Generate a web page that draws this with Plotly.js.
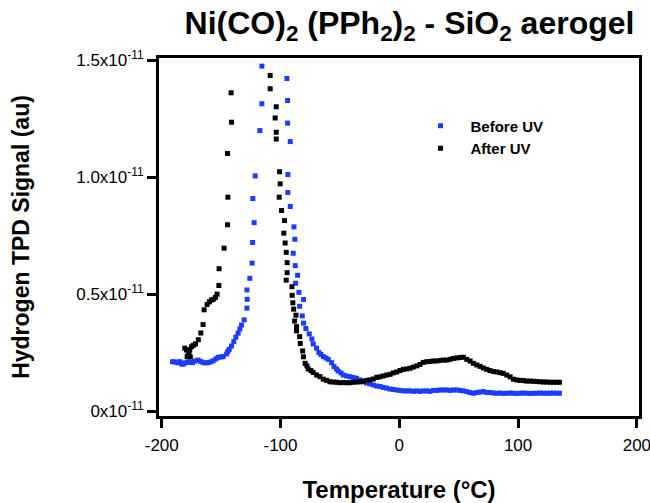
<!DOCTYPE html>
<html>
<head>
<meta charset="utf-8">
<script src="https://cdn.plot.ly/plotly-3.0.1.min.js"></script>
<style>html,body{margin:0;padding:0;background:#fff;}#chart{width:650px;height:503px;}</style>
</head>
<body>
<div id="chart"></div>
<script>
// Temperature (°C) and hydrogen TPD signal (in units of 1e-11 au)
const tempBefore = [-190.9,-189.0,-186.5,-184.8,-183.1,-182.0,-180.6,-178.0,-176.4,-174.1,-172.1,-169.4,-167.1,-165.2,-162.9,-160.9,-158.7,-156.7,-154.4,-152.5,-150.2,-148.3,-145.4,-144.3,-143.2,-141.2,-139.3,-137.6,-135.7,-134.2,-132.8,-130.6,-128.3,-128.1,-128.3,-125.8,-123.9,-123.5,-122.2,-123.3,-121.3,-117.4,-115.7,-115.7,
  -94.6,-94.0,-94.0,-91.8,-93.8,-93.8,-91.8,-88.7,-87.9,-89.3,-87.6,-85.6,-87.3,-84.5,-80.6,-83.9,-81.7,-80.6,-78.6,-75.8,-73.6,-72.5,-69.6,-67.7,-66.0,-64.0,-61.8,-59.8,-57.0,-55.0,-52.9,-51.4,-49.1,-47.2,-44.5,-41.5,-38.8,-35.9,-33.1,-30.3,-27.6,-24.7,-21.9,-19.0,-16.3,-13.5,-10.8,-7.8,-4.9,-2.2,0.6,3.5,6.2,9.0,12.0,14.7,17.4,20.2,23.1,25.9,28.6,31.5,34.3,37.1,39.9,42.7,45.5,48.4,51.1,53.9,56.8,59.6,62.4,65.2,68.0,70.8,73.6,76.4,79.2,82.1,84.9,87.6,90.5,93.3,96.1,98.9,101.7,104.5,107.3,110.1,112.9,115.8,118.6,121.4,124.2,127.0,129.8,132.5,134.8];
const signalBefore = [0.211,0.210,0.206,0.211,0.201,0.201,0.206,0.210,0.208,0.207,0.214,0.218,0.212,0.207,0.206,0.207,0.210,0.215,0.223,0.230,0.231,0.233,0.244,0.255,0.264,0.278,0.297,0.316,0.333,0.351,0.368,0.390,0.440,0.478,0.518,0.568,0.633,0.721,0.806,0.909,1.006,1.200,1.315,1.476,
  1.423,1.329,1.232,1.153,1.012,0.935,0.875,0.788,0.735,0.675,0.622,0.581,0.547,0.508,0.477,0.448,0.407,0.376,0.353,0.330,0.308,0.287,0.269,0.250,0.242,0.233,0.227,0.221,0.207,0.190,0.180,0.171,0.163,0.154,0.150,0.147,0.143,0.140,0.133,0.125,0.120,0.116,0.111,0.107,0.105,0.101,0.098,0.094,0.092,0.090,0.088,0.086,0.086,0.086,0.084,0.086,0.084,0.086,0.086,0.084,0.088,0.088,0.090,0.090,0.090,0.088,0.090,0.090,0.088,0.086,0.083,0.079,0.076,0.079,0.081,0.083,0.079,0.079,0.077,0.076,0.077,0.075,0.076,0.077,0.076,0.075,0.076,0.077,0.076,0.075,0.076,0.076,0.077,0.076,0.076,0.076,0.077,0.076,0.076];

const tempAfter = [-180.6,-179.1,-178.6,-177.6,-176.9,-176.4,-175.9,-174.9,-173.4,-171.6,-169.2,-167.1,-165.2,-164.3,-161.8,-159.9,-158.2,-156.6,-154.7,-153.4,-151.9,-151.7,-147.5,-144.6,-144.3,-144.6,-141.2,-141.6,
  -108.7,-108.7,-103.6,-104.5,-103.6,-103.6,-100.8,-100.3,-101.1,-99.1,-96.6,-97.2,-96.1,-95.2,-94.4,-94.4,-95.2,-90.4,-90.2,-89.6,-88.9,-87.0,-88.1,-86.5,-86.5,-83.9,-83.4,-81.4,-80.7,-79.3,-77.8,-76.7,-74.4,-72.5,-69.6,-66.8,-64.0,-61.2,-58.4,-55.6,-52.7,-50.0,-47.2,-44.3,-41.5,-38.8,-35.9,-33.1,-30.3,-27.5,-24.7,-21.9,-19.0,-16.3,-13.5,-10.6,-7.8,-5.1,-2.2,0.6,3.4,6.2,9.0,11.8,14.7,17.4,20.2,23.1,25.9,28.6,31.5,34.3,37.1,39.9,42.7,45.5,48.4,51.1,53.9,56.8,59.6,62.4,65.2,68.0,70.8,73.6,76.4,79.2,82.1,84.9,87.6,90.5,93.3,96.1,98.9,101.7,104.5,107.3,110.1,112.9,115.8,118.6,121.4,124.2,127.0,129.8,132.5,134.8];
const signalAfter = [0.269,0.261,0.233,0.248,0.240,0.261,0.231,0.275,0.281,0.287,0.305,0.334,0.370,0.433,0.456,0.467,0.475,0.478,0.486,0.500,0.537,0.609,0.697,0.797,0.915,1.102,1.236,1.362,
  1.436,1.379,1.302,1.254,1.193,1.164,1.024,0.972,0.915,0.858,0.815,0.761,0.719,0.679,0.635,0.592,0.560,0.532,0.495,0.463,0.436,0.410,0.385,0.361,0.343,0.318,0.289,0.257,0.232,0.204,0.193,0.180,0.173,0.165,0.154,0.147,0.136,0.131,0.125,0.124,0.123,0.121,0.122,0.121,0.121,0.123,0.124,0.125,0.128,0.131,0.133,0.137,0.144,0.146,0.150,0.154,0.157,0.163,0.167,0.173,0.178,0.180,0.183,0.188,0.193,0.199,0.208,0.211,0.212,0.214,0.214,0.216,0.218,0.218,0.221,0.225,0.227,0.229,0.230,0.221,0.214,0.204,0.197,0.191,0.184,0.178,0.173,0.169,0.167,0.164,0.161,0.154,0.146,0.136,0.133,0.131,0.130,0.128,0.128,0.127,0.126,0.125,0.124,0.124,0.123,0.123,0.123,0.123];

const seriesNames = ['Before UV', 'After UV'];
const xTickVals = [-200, -100, 0, 100, 200];
const yTickVals = [0, 0.5, 1.0, 1.5];
const yTickText = ['0x10<sup>-11</sup>', '0.5x10<sup>-11</sup>', '1.0x10<sup>-11</sup>', '1.5x10<sup>-11</sup>'];

const FONT = 'Liberation Sans, Arial, Helvetica, sans-serif';

const traces = [
  {x: tempBefore, y: signalBefore, name: seriesNames[0], type: 'scatter', mode: 'markers',
   marker: {symbol: 'square', size: 5, color: '#1a3cff'}},
  {x: tempAfter, y: signalAfter, name: seriesNames[1], type: 'scatter', mode: 'markers',
   marker: {symbol: 'square', size: 5, color: '#000000'}}
];

const axisCommon = {
  showline: true, linewidth: 3, linecolor: '#000', mirror: true,
  ticks: 'outside', ticklen: 9, tickwidth: 3, tickcolor: '#000',
  showgrid: false, zeroline: false,
  ticklabeloverflow: 'allow',
  tickfont: {family: FONT, size: 17, color: '#000'}
};

const layout = {
  width: 650, height: 503,
  paper_bgcolor: '#fff', plot_bgcolor: '#fff',
  margin: {l: 159, r: 11, t: 58, b: 87, pad: 0},
  title: {
    text: 'Ni(CO)<sub>2</sub> (PPh<sub>2</sub>)<sub>2</sub> - SiO<sub>2</sub> aerogel',
    font: {family: FONT, size: 32, color: '#000', weight: 'bold'},
    x: 0.63, xanchor: 'center', y: 0.955, yanchor: 'middle'
  },
  xaxis: Object.assign({}, axisCommon, {
    range: [-202.3, 201.8], tickvals: xTickVals, ticktext: xTickVals.map(String),
    ticklabelstandoff: 3,
    title: {text: 'Temperature (°C)', font: {family: FONT, size: 24, color: '#000', weight: 'bold'}, standoff: 32}
  }),
  yaxis: Object.assign({}, axisCommon, {
    range: [-0.0214, 1.5107], tickvals: yTickVals, ticktext: yTickText,
    title: {text: 'Hydrogen TPD Signal (au)', font: {family: FONT, size: 23, color: '#000', weight: 'bold'}, standoff: 41}
  }),
  showlegend: true,
  legend: {
    x: 0.524, xanchor: 'left', y: 0.856, yanchor: 'top',
    itemwidth: 50, bgcolor: 'rgba(0,0,0,0)', borderwidth: 0,
    font: {family: FONT, size: 15, color: '#000', weight: 'bold'}
  }
};

Plotly.newPlot('chart', traces, layout, {displayModeBar: false, staticPlot: true});
</script>
</body>
</html>
